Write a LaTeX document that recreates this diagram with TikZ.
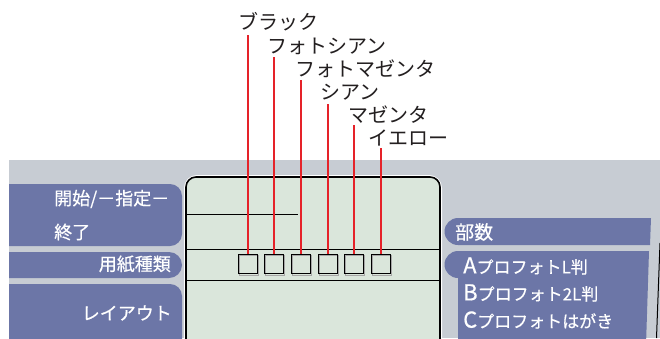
\documentclass[tikz,border=0pt]{standalone}
\usepackage{fontspec}
\newfontfamily\jp{Noto Sans CJK JP}
\newfontfamily\jpb[FakeBold=0.5]{Noto Sans CJK JP}
\definecolor{bggray}{HTML}{C7CCD3}
\definecolor{panel}{HTML}{6C76A7}
\definecolor{lcd}{HTML}{DAE6DB}
\definecolor{lred}{HTML}{E52229}
\definecolor{ink}{HTML}{231F20}
\tikzset{
  lab/.style={anchor=west,inner sep=0pt,text=ink,font=\jp\fontsize{20}{24}\selectfont},
  ptext/.style={inner sep=0pt,text=white,font=\jpb\fontsize{18}{22}\selectfont},
  rtext/.style={anchor=west,inner sep=0pt,text=white,font=\jpb\fontsize{17}{22}\selectfont},
  sqbox/.style={draw=black,line width=1.4pt,minimum size=19pt,inner sep=0pt},
  redline/.style={draw=lred,line width=2pt},
  lcdline/.style={draw=black,line width=0.9pt}
}
\begin{document}
\begin{tikzpicture}[x=1pt,y=-1pt]
\useasboundingbox (0,0) rectangle (660,338);
\fill[white] (0,0) rectangle (660,338);
\begin{scope}
\clip (9,160) rectangle (660,338);
\fill[bggray] (9,160) rectangle (660,338);
% left panels
\fill[panel,rounded corners=12pt] (-20,184) rectangle (182,246);
\fill[panel,rounded corners=13pt] (-20,252) rectangle (182,278);
\fill[panel,rounded corners=12pt] (-20,284) rectangle (182,370);
% right panels
\fill[panel] (458,218) -- (651,218) -- (650,245) -- (458,245) -- cycle;
\fill[panel] (458,231.5) circle (13.5);
\fill[panel] (458,251) -- (649,251) -- (646,345) -- (458,345) -- cycle;
\fill[panel] (458,264.5) circle (13.5);
% LCD
\draw[white,line width=4pt,rounded corners=11pt] (186,177) rectangle (440,370);
\filldraw[fill=lcd,draw=black,line width=1.6pt,rounded corners=10pt] (186,177) rectangle (440,370);
\draw[lcdline] (186,214) -- (298,214);
\draw[lcdline] (186,249) -- (440,249);
\draw[lcdline] (186,280) -- (440,280);
% right edge line
\draw[black,line width=1pt] (660,243) -- (656.5,338);
\end{scope}
% squares
\foreach \i/\x in {1/248,2/274,3/301,4/328,5/354,6/381}{
  \draw[gray!70,line width=1.2pt] (\x-9.5+1.2,254+1.2) rectangle (\x+9.5+1.2,274+1.2);
  \node[sqbox] (s\i) at (\x,264) {};
}
% top labels
\node[lab] (l1) at (238,22) {ブラック};
\node[lab] (l2) at (267,46) {フォトシアン};
\node[lab] (l3) at (295,69) {フォトマゼンタ};
\node[lab] (l4) at (320,92) {シアン};
\node[lab] (l5) at (348,115) {マゼンタ};
\node[lab] (l6) at (368,138) {イエロー};
\coordinate (t1) at (248,35);
\coordinate (t2) at (274,57);
\coordinate (t3) at (301,80);
\coordinate (t4) at (328,104);
\coordinate (t5) at (354,125);
\coordinate (t6) at (381,148);
\foreach \i in {1,...,6}{ \draw[redline] (t\i) -- (s\i.north); }
% left panel texts
\node[ptext,anchor=west] (p1) at (54,199) {開始/－指定－};
\node[ptext,anchor=west] (p2) at (54,232) {終了};
\node[ptext,anchor=east] (p3) at (171,264) {用紙種類};
\node[ptext,anchor=east] (p4) at (172,313) {レイアウト};
% right panel texts
\node[rtext,font=\jpb\fontsize{19}{22}\selectfont] (r0) at (455,232) {部数};
\node[rtext] (r1) at (463,266) {{\fontsize{22}{22}\selectfont A}プロフォトL判};
\node[rtext] (r2) at (463,293) {{\fontsize{22}{22}\selectfont B}プロフォト2L判};
\node[rtext] (r3) at (463,320) {{\fontsize{22}{22}\selectfont C}プロフォトはがき};
\end{tikzpicture}
\end{document}
